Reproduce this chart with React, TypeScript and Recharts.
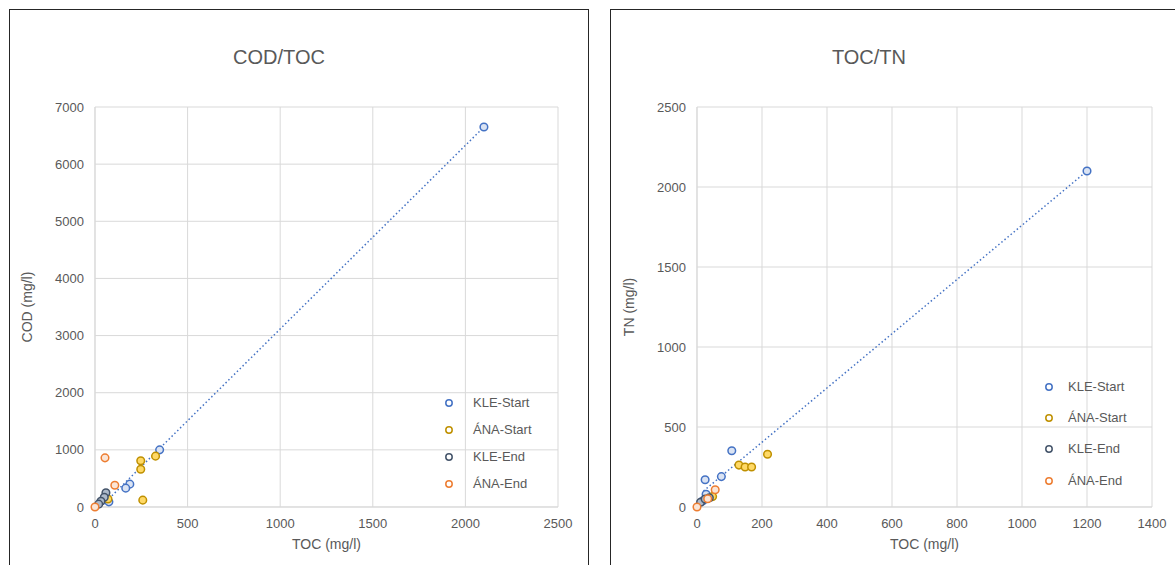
import { ScatterChart, Scatter, XAxis, YAxis, CartesianGrid, Legend, Label } from 'recharts'

const SERIES_NAMES = ['KLE-Start', 'ÁNA-Start', 'KLE-End', 'ÁNA-End']

// COD/TOC  [TOC, COD]
const codKleStart = [[2100, 6650], [349, 1000], [188, 400], [166, 330], [75, 90]]
const codAnaStart = [[247, 810], [247, 660], [327, 890], [258, 120], [70, 140]]
const codKleEnd = [[59, 250], [50, 170], [32, 100], [20, 50]]
const codAnaEnd = [[54, 860], [107, 380], [0, 0]]
const codTrend = [[30, 0], [2100, 6650]]
const codXTicks = [0, 500, 1000, 1500, 2000, 2500]
const codYTicks = [0, 1000, 2000, 3000, 4000, 5000, 6000, 7000]

// TOC/TN  [TOC, TN]
const tnKleStart = [[1200, 2100], [107, 352], [75, 190], [25, 170], [28, 80], [17, 37]]
const tnAnaStart = [[217, 330], [129, 262], [148, 250], [168, 250], [48, 65]]
const tnKleEnd = [[11, 30], [25, 50], [38, 58]]
const tnAnaEnd = [[56, 108], [33, 52], [0, 0]]
const tnTrend = [[20, 100], [1200, 2100]]
const tnXTicks = [0, 200, 400, 600, 800, 1000, 1200, 1400]
const tnYTicks = [0, 500, 1000, 1500, 2000, 2500]

const COLORS = [
  { stroke: '#4472C4', fill: '#DAE3F3' },
  { stroke: '#BF9000', fill: '#FFD966' },
  { stroke: '#44546A', fill: '#ADB9CA' },
  { stroke: '#ED7D31', fill: '#FBE5D6' },
]

const FONT = '"Liberation Sans", Arial, sans-serif'
const TEXT = '#595959'
const GRID = '#d9d9d9'

const toPts = (arr: number[][]) => arr.map(([x, y]) => ({ x, y }))

function Dot(props: any, i: number) {
  const c = COLORS[i]
  return <circle cx={props.cx} cy={props.cy} r={3.8} stroke={c.stroke} strokeWidth={1.5} fill={c.fill} />
}

function LegendBox({ rowH, textX }: { rowH: number; textX: number }) {
  return (
    <div style={{ fontFamily: FONT, fontSize: 13, color: TEXT }}>
      {SERIES_NAMES.map((n, i) => (
        <div key={n} style={{ position: 'relative', height: rowH }}>
          <svg width={12} height={12} style={{ position: 'absolute', left: 0, top: rowH / 2 - 6 }}>
            <circle cx={6} cy={6} r={3.2} stroke={COLORS[i].stroke} strokeWidth={1.5} fill="#fff" />
          </svg>
          <span style={{ position: 'absolute', left: textX, top: rowH / 2 - 8, lineHeight: '16px', whiteSpace: 'nowrap' }}>{n}</span>
        </div>
      ))}
    </div>
  )
}

interface PanelProps {
  title: string
  titleX: number
  yLabel: string
  yLabelX: number
  width: number
  yAxisW: number
  marginRight: number
  xTicks: number[]
  yTicks: number[]
  series: number[][][]
  trend: number[][]
  legendTop: number
  legendRowH: number
  legendLeft: number
  legendTextX: number
}

function Panel(p: PanelProps) {
  return (
    <div style={{ position: 'relative', width: p.width, height: 565 }}>
      <div style={{ position: 'absolute', left: p.titleX - 100, top: 44, width: 200, textAlign: 'center', fontSize: 20, lineHeight: '26px', color: TEXT, fontFamily: FONT }}>
        {p.title}
      </div>
      <ScatterChart width={p.width} height={565} margin={{ top: 107, right: p.marginRight, bottom: 18, left: 0 }}>
        <CartesianGrid stroke={GRID} strokeWidth={1} />
        <XAxis
          type="number"
          dataKey="x"
          domain={[p.xTicks[0], p.xTicks[p.xTicks.length - 1]]}
          ticks={p.xTicks}
          height={40}
          tickLine={false}
          tickSize={0}
          tickMargin={12}
          axisLine={{ stroke: GRID }}
          tick={{ fill: TEXT, fontSize: 13, fontFamily: FONT }}
        >
          <Label value="TOC (mg/l)" position="bottom" offset={-8} fill={TEXT} fontSize={14} fontFamily={FONT} />
        </XAxis>
        <YAxis
          type="number"
          dataKey="y"
          domain={[p.yTicks[0], p.yTicks[p.yTicks.length - 1]]}
          ticks={p.yTicks}
          width={p.yAxisW}
          tickLine={false}
          tickSize={0}
          tickMargin={11}
          axisLine={{ stroke: GRID }}
          tick={{ fill: TEXT, fontSize: 13, fontFamily: FONT }}
        >
          <Label
            content={(lp: any) => {
              const vb = lp.viewBox || {}
              const cy = (vb.y ?? 107) + (vb.height ?? 400) / 2
              return (
                <text x={p.yLabelX} y={cy} transform={`rotate(-90 ${p.yLabelX} ${cy})`} textAnchor="middle" dominantBaseline="central" fill={TEXT} fontSize={14} fontFamily={FONT}>
                  {p.yLabel}
                </text>
              )
            }}
          />
        </YAxis>
        <Legend
          layout="vertical"
          align="center"
          verticalAlign="middle"
          wrapperStyle={{ left: p.legendLeft, top: p.legendTop, width: 130 }}
          content={() => <LegendBox rowH={p.legendRowH} textX={p.legendTextX} />}
        />
        <Scatter
          data={toPts(p.trend)}
          line={{ stroke: '#4472C4', strokeWidth: 1.5, strokeDasharray: '1.5 2.5' }}
          shape={() => <g />}
          legendType="none"
          isAnimationActive={false}
        />
        {p.series.map((s, i) => (
          <Scatter key={SERIES_NAMES[i]} name={SERIES_NAMES[i]} data={toPts(s)} shape={(sp: any) => Dot(sp, i)} isAnimationActive={false} />
        ))}
      </ScatterChart>
    </div>
  )
}

export default function App() {
  return (
    <div style={{ position: 'absolute', left: 0, top: 0, width: 1175, height: 565, overflow: 'hidden', background: '#fff' }}>
      <div style={{ position: 'absolute', left: 9, top: 9, width: 578, height: 600, border: '1.5px solid #262626' }} />
      <div style={{ position: 'absolute', left: 610, top: 9, width: 600, height: 600, border: '1.5px solid #262626' }} />
      <div style={{ position: 'absolute', left: 0, top: 0 }}>
        <Panel
          title="COD/TOC"
          titleX={279}
          yLabel="COD (mg/l)"
          yLabelX={27}
          width={590}
          yAxisW={95}
          marginRight={32}
          xTicks={codXTicks}
          yTicks={codYTicks}
          series={[codKleStart, codAnaStart, codKleEnd, codAnaEnd]}
          trend={codTrend}
          legendTop={389}
          legendRowH={27}
          legendLeft={443}
          legendTextX={30}
        />
      </div>
      <div style={{ position: 'absolute', left: 600, top: 0 }}>
        <Panel
          title="TOC/TN"
          titleX={269}
          yLabel="TN (mg/l)"
          yLabelX={29}
          width={575}
          yAxisW={97}
          marginRight={23}
          xTicks={tnXTicks}
          yTicks={tnYTicks}
          series={[tnKleStart, tnAnaStart, tnKleEnd, tnAnaEnd]}
          trend={tnTrend}
          legendTop={371}
          legendRowH={31.3}
          legendLeft={443}
          legendTextX={25}
        />
      </div>
    </div>
  )
}
